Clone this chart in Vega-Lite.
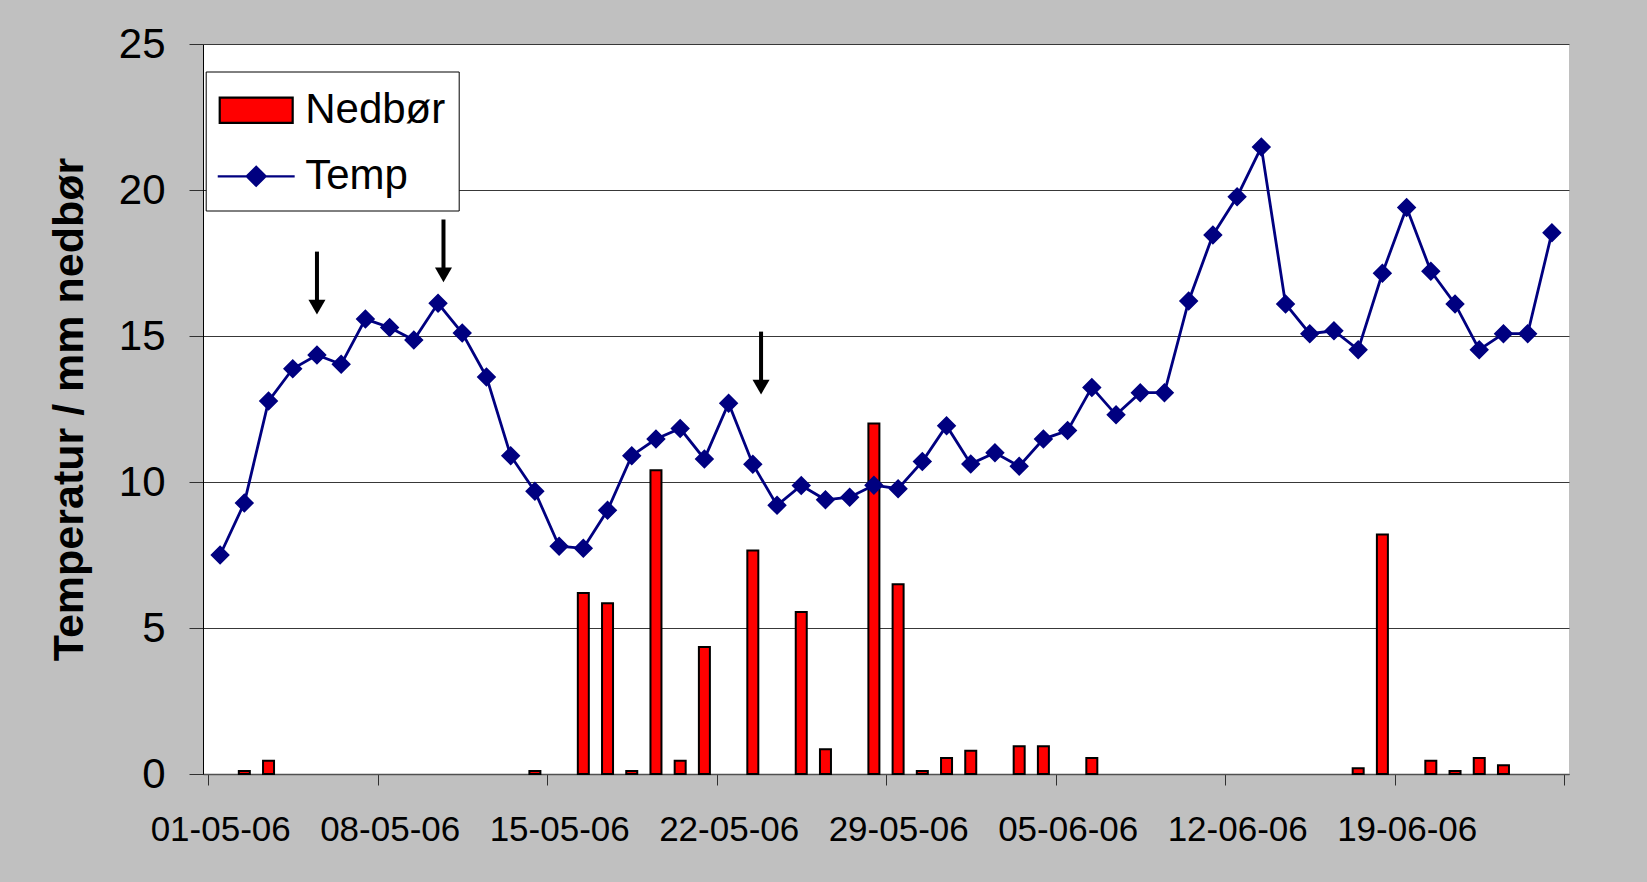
{
  "$schema": "https://vega.github.io/schema/vega-lite/v6.json",
  "width": 1366,
  "height": 730,
  "autosize": {"type": "none"},
  "padding": {"left": 203, "top": 44, "right": 78, "bottom": 108},
  "background": "#C0C0C0",
  "config": {
    "font": "Liberation Sans",
    "view": {"fill": "white", "stroke": null},
    "axisX": {
      "domainColor": "#505050", "domainWidth": 1.5,
      "tickColor": "#303030", "tickSize": 11, "tickWidth": 1,
      "labelFont": "Liberation Sans", "labelFontSize": 35, "labelColor": "black",
      "labelPadding": 55, "labelBaseline": "alphabetic", "labelOffset": 12.2,
      "labelFlush": false, "labelOverlap": false, "labelBound": false,
      "grid": false
    },
    "axisY": {
      "domainColor": "black", "domainWidth": 1,
      "tickColor": "#303030", "tickSize": 14, "tickWidth": 1,
      "labelFont": "Liberation Sans", "labelFontSize": 42, "labelColor": "black", "labelPadding": 24,
      "grid": true, "gridWidth": 1, "gridColor": "#383838",
      "titleFont": "Liberation Sans", "titleFontSize": 43, "titleFontWeight": "bold", "titleColor": "black",
      "titleX": -121, "titleY": 365, "titleAngle": 270, "titleAlign": "center", "titleBaseline": "alphabetic"
    },
    "legend": {
      "orient": "none", "legendX": 2.7, "legendY": 27.5,
      "fillColor": "white", "strokeColor": "black",
      "padding": 13, "labelFont": "Liberation Sans", "labelFontSize": 42, "labelColor": "black",
      "labelOffset": 28, "labelLimit": 0, "symbolSize": 361, "symbolOffset": 16.5,
      "symbolStrokeWidth": 2.2, "rowPadding": 24,
      "titleFontSize": 1, "titlePadding": 3.8
    }
  },
  "datasets": {
    "dager": [
      {"dato": "2006-05-01T12:00:00", "temp": 7.5, "nedbor": null},
      {"dato": "2006-05-02T12:00:00", "temp": 9.28, "nedbor": 0.1},
      {"dato": "2006-05-03T12:00:00", "temp": 12.77, "nedbor": 0.45},
      {"dato": "2006-05-04T12:00:00", "temp": 13.88, "nedbor": null},
      {"dato": "2006-05-05T12:00:00", "temp": 14.35, "nedbor": null},
      {"dato": "2006-05-06T12:00:00", "temp": 14.03, "nedbor": null},
      {"dato": "2006-05-07T12:00:00", "temp": 15.58, "nedbor": null},
      {"dato": "2006-05-08T12:00:00", "temp": 15.29, "nedbor": null},
      {"dato": "2006-05-09T12:00:00", "temp": 14.86, "nedbor": null},
      {"dato": "2006-05-10T12:00:00", "temp": 16.12, "nedbor": null},
      {"dato": "2006-05-11T12:00:00", "temp": 15.1, "nedbor": null},
      {"dato": "2006-05-12T12:00:00", "temp": 13.6, "nedbor": null},
      {"dato": "2006-05-13T12:00:00", "temp": 10.9, "nedbor": null},
      {"dato": "2006-05-14T12:00:00", "temp": 9.68, "nedbor": 0.1},
      {"dato": "2006-05-15T12:00:00", "temp": 7.8, "nedbor": null},
      {"dato": "2006-05-16T12:00:00", "temp": 7.73, "nedbor": 6.2},
      {"dato": "2006-05-17T12:00:00", "temp": 9.03, "nedbor": 5.85},
      {"dato": "2006-05-18T12:00:00", "temp": 10.9, "nedbor": 0.1},
      {"dato": "2006-05-19T12:00:00", "temp": 11.47, "nedbor": 10.4},
      {"dato": "2006-05-20T12:00:00", "temp": 11.83, "nedbor": 0.45},
      {"dato": "2006-05-21T12:00:00", "temp": 10.79, "nedbor": 4.35},
      {"dato": "2006-05-22T12:00:00", "temp": 12.7, "nedbor": null},
      {"dato": "2006-05-23T12:00:00", "temp": 10.61, "nedbor": 7.65},
      {"dato": "2006-05-24T12:00:00", "temp": 9.2, "nedbor": null},
      {"dato": "2006-05-25T12:00:00", "temp": 9.88, "nedbor": 5.55},
      {"dato": "2006-05-26T12:00:00", "temp": 9.39, "nedbor": 0.85},
      {"dato": "2006-05-27T12:00:00", "temp": 9.48, "nedbor": null},
      {"dato": "2006-05-28T12:00:00", "temp": 9.89, "nedbor": 12.0},
      {"dato": "2006-05-29T12:00:00", "temp": 9.77, "nedbor": 6.5},
      {"dato": "2006-05-30T12:00:00", "temp": 10.7, "nedbor": 0.1},
      {"dato": "2006-05-31T12:00:00", "temp": 11.93, "nedbor": 0.55},
      {"dato": "2006-06-01T12:00:00", "temp": 10.62, "nedbor": 0.8},
      {"dato": "2006-06-02T12:00:00", "temp": 11.0, "nedbor": null},
      {"dato": "2006-06-03T12:00:00", "temp": 10.54, "nedbor": 0.95},
      {"dato": "2006-06-04T12:00:00", "temp": 11.47, "nedbor": 0.95},
      {"dato": "2006-06-05T12:00:00", "temp": 11.76, "nedbor": null},
      {"dato": "2006-06-06T12:00:00", "temp": 13.24, "nedbor": 0.55},
      {"dato": "2006-06-07T12:00:00", "temp": 12.3, "nedbor": null},
      {"dato": "2006-06-08T12:00:00", "temp": 13.06, "nedbor": null},
      {"dato": "2006-06-09T12:00:00", "temp": 13.06, "nedbor": null},
      {"dato": "2006-06-10T12:00:00", "temp": 16.2, "nedbor": null},
      {"dato": "2006-06-11T12:00:00", "temp": 18.46, "nedbor": null},
      {"dato": "2006-06-12T12:00:00", "temp": 19.77, "nedbor": null},
      {"dato": "2006-06-13T12:00:00", "temp": 21.47, "nedbor": null},
      {"dato": "2006-06-14T12:00:00", "temp": 16.1, "nedbor": null},
      {"dato": "2006-06-15T12:00:00", "temp": 15.08, "nedbor": null},
      {"dato": "2006-06-16T12:00:00", "temp": 15.18, "nedbor": null},
      {"dato": "2006-06-17T12:00:00", "temp": 14.53, "nedbor": 0.2},
      {"dato": "2006-06-18T12:00:00", "temp": 17.15, "nedbor": 8.2},
      {"dato": "2006-06-19T12:00:00", "temp": 19.4, "nedbor": null},
      {"dato": "2006-06-20T12:00:00", "temp": 17.22, "nedbor": 0.45},
      {"dato": "2006-06-21T12:00:00", "temp": 16.1, "nedbor": 0.1},
      {"dato": "2006-06-22T12:00:00", "temp": 14.53, "nedbor": 0.55},
      {"dato": "2006-06-23T12:00:00", "temp": 15.08, "nedbor": 0.3},
      {"dato": "2006-06-24T12:00:00", "temp": 15.08, "nedbor": null},
      {"dato": "2006-06-25T12:00:00", "temp": 18.54, "nedbor": null}
    ],
    "piler": [
      {"dato": "2006-05-05T12:00:00", "topp": 17.89, "hode": 15.99},
      {"dato": "2006-05-10T17:24:00", "topp": 18.99, "hode": 17.09},
      {"dato": "2006-05-23T20:10:00", "topp": 15.15, "hode": 13.25}
    ]
  },
  "encoding": {
    "x": {
      "field": "dato", "type": "temporal", "title": null,
      "scale": {"domain": [{"year": 2006, "month": 5, "date": 1}, {"year": 2006, "month": 6, "date": 26}], "nice": false},
      "axis": {
        "values": [
          {"year": 2006, "month": 5, "date": 1},
          {"year": 2006, "month": 5, "date": 8},
          {"year": 2006, "month": 5, "date": 15},
          {"year": 2006, "month": 5, "date": 22},
          {"year": 2006, "month": 5, "date": 29},
          {"year": 2006, "month": 6, "date": 5},
          {"year": 2006, "month": 6, "date": 12},
          {"year": 2006, "month": 6, "date": 19},
          {"year": 2006, "month": 6, "date": 26}
        ],
        "labelExpr": "datum.value >= datetime(2006, 5, 26) ? '' : timeFormat(datum.value, '%d-%m-%y')"
      }
    }
  },
  "layer": [
    {
      "data": {"name": "dager"},
      "mark": {"type": "bar", "size": 11, "strokeWidth": 2},
      "encoding": {
        "y": {
          "field": "nedbor", "type": "quantitative", "title": "Temperatur / mm nedbør",
          "scale": {"domain": [0, 25], "nice": false},
          "axis": {"values": [0, 5, 10, 15, 20, 25]}
        },
        "fill": {
          "datum": "Nedbør", "type": "nominal",
          "scale": {"domain": ["Nedbør", "Temp"], "range": ["#FF0000", "#000080"]},
          "legend": {"title": " "}
        },
        "stroke": {
          "datum": "Nedbør", "type": "nominal",
          "scale": {"domain": ["Nedbør", "Temp"], "range": ["#000000", "#000080"]},
          "legend": {"title": " "}
        }
      }
    },
    {
      "data": {"name": "dager"},
      "mark": {"type": "line", "color": "#000080", "strokeWidth": 2.8},
      "encoding": {
        "y": {"field": "temp", "type": "quantitative", "title": "Temperatur / mm nedbør"}
      }
    },
    {
      "data": {"name": "dager"},
      "mark": {"type": "point", "filled": true, "size": 380, "opacity": 1, "strokeWidth": 0},
      "encoding": {
        "y": {"field": "temp", "type": "quantitative", "title": "Temperatur / mm nedbør"},
        "fill": {"datum": "Temp", "type": "nominal", "legend": {"title": " "}},
        "stroke": {"datum": "Temp", "type": "nominal", "legend": {"title": " "}},
        "shape": {
          "datum": "Temp", "type": "nominal",
          "scale": {"domain": ["Nedbør", "Temp"], "range": ["M-3.84,-1.33H3.84V1.33H-3.84Z", "M-4.05,0H4.05M-1,0L0,-1L1,0L0,1Z"]},
          "legend": {"title": " "}
        }
      }
    },
    {
      "data": {"name": "piler"},
      "mark": {"type": "rule", "color": "black", "strokeWidth": 4},
      "encoding": {
        "y": {"field": "topp", "type": "quantitative", "title": "Temperatur / mm nedbør"},
        "y2": {"field": "hode"}
      }
    },
    {
      "data": {"name": "piler"},
      "mark": {"type": "point", "shape": "triangle-down", "filled": true, "size": 290, "color": "black", "opacity": 1},
      "encoding": {
        "y": {"field": "hode", "type": "quantitative", "title": "Temperatur / mm nedbør"}
      }
    }
  ]
}
